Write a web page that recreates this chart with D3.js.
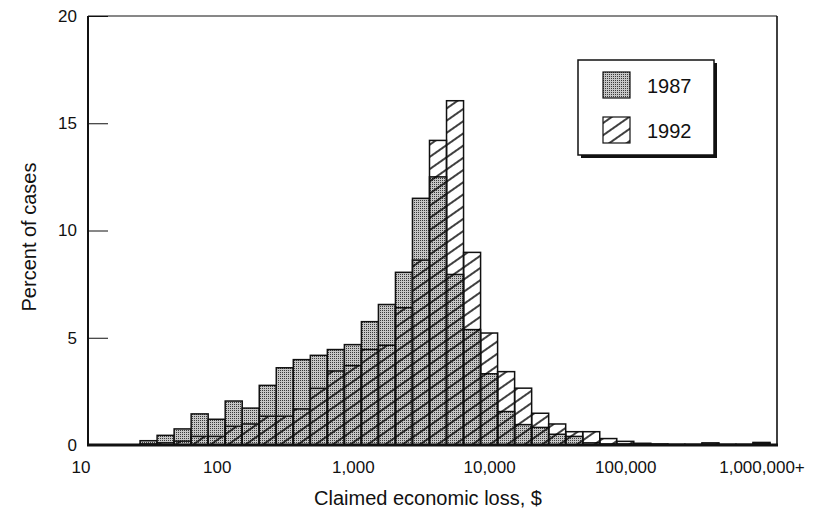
<!DOCTYPE html>
<html>
<head>
<meta charset="utf-8">
<script src="https://cdn.jsdelivr.net/npm/d3@7"></script>
<style>
  html, body { margin: 0; padding: 0; background: #fff; }
  svg text { font-family: "Liberation Sans", Arial, Helvetica, sans-serif; fill: #111; }
</style>
</head>
<body>
<svg id="chart" width="821" height="512"></svg>
<script>
// bins are 1/8 of a decade on the claimed-loss axis, 40 of them
var binCount = 40
var binsPerDecade = 8

// percent of cases per bin
var cases1987 = [0, 0, 0, 0.2, 0.45, 0.75, 1.45, 1.2, 2.05, 1.72,
                 2.78, 3.6, 3.98, 4.18, 4.45, 4.68, 5.75, 6.55, 8.05, 11.5,
                 12.5, 7.95, 5.38, 3.32, 1.56, 0.95, 0.82, 0.5, 0.4, 0.1,
                 0.05, 0.05, 0.03, 0.02, 0.02, 0.02, 0.05, 0.02, 0.02, 0.08]
var cases1992 = [0, 0, 0, 0.05, 0.1, 0.18, 0.4, 0.4, 0.87, 0.98,
                 1.34, 1.34, 1.68, 2.64, 3.45, 3.7, 4.45, 4.65, 6.4, 8.62,
                 14.2, 16.05, 8.98, 5.22, 3.42, 2.65, 1.48, 0.98, 0.62, 0.62,
                 0.3, 0.17, 0.08, 0.05, 0.03, 0.03, 0.1, 0.03, 0.03, 0.12]

var xTickValues = [10, 100, 1000, 10000, 100000, 1000000]
var xTickLabels = ['10', '100', '1,000', '10,000', '100,000', '1,000,000+']
var yTickValues = [0, 5, 10, 15, 20]

var svg = d3.select('#chart')
var plotLeft = 88, plotRight = 777, plotTop = 16, plotBottom = 445

// bin centres fall on the labelled values, so the first edge is half a bin above 10
var firstEdge = Math.pow(10, 1 + 0.5 / binsPerDecade)
var lastEdge = firstEdge * Math.pow(10, binCount / binsPerDecade)
var x = d3.scaleLog().domain([firstEdge, lastEdge]).range([89, 770])
var y = d3.scaleLinear().domain([0, 20]).range([plotBottom, plotTop])

function binEdge(k) {
    return firstEdge * Math.pow(10, k / binsPerDecade)
}

// fill patterns: grey stipple for 1987, diagonal hatch for 1992
var defs = svg.append('defs')
var stipple = defs.append('pattern')
    .attr('id', 'stipple')
    .attr('patternUnits', 'userSpaceOnUse')
    .attr('width', 2)
    .attr('height', 2)
stipple.append('rect').attr('width', 2).attr('height', 2).attr('fill', '#c6c6c6')
stipple.append('rect').attr('width', 1).attr('height', 1).attr('fill', '#3a3a3a')

var hatch = defs.append('pattern')
    .attr('id', 'hatch')
    .attr('patternUnits', 'userSpaceOnUse')
    .attr('width', 10)
    .attr('height', 10)
    .attr('patternTransform', 'rotate(-35)')
hatch.append('line')
    .attr('x1', 0).attr('y1', 5)
    .attr('x2', 10).attr('y2', 5)
    .attr('stroke', '#000')
    .attr('stroke-width', 1.5)

function drawBars(values, cls, fill) {
    var bins = values.map(function(v, k) { return { k: k, v: v } })
        .filter(function(d) { return d.v > 0 })
    svg.append('g')
        .attr('class', cls)
        .selectAll('rect')
        .data(bins)
        .join('rect')
        .attr('x', function(d) { return x(binEdge(d.k)) })
        .attr('width', function(d) { return x(binEdge(d.k + 1)) - x(binEdge(d.k)) })
        .attr('y', function(d) { return y(d.v) })
        .attr('height', function(d) { return y(0) - y(d.v) })
        .attr('fill', fill)
        .attr('stroke', '#111')
        .attr('stroke-width', 1.5)
}

// 1987 underneath, 1992 hatch laid over it
drawBars(cases1987, 'bars1987', 'url(#stipple)')
drawBars(cases1992, 'bars1992', 'url(#hatch)')

// frame
svg.append('line').attr('x1', plotLeft).attr('x2', plotRight).attr('y1', plotTop).attr('y2', plotTop)
    .attr('stroke', '#111').attr('stroke-width', 1)
svg.append('line').attr('x1', plotRight).attr('x2', plotRight).attr('y1', plotTop).attr('y2', plotBottom)
    .attr('stroke', '#111').attr('stroke-width', 1.6)
svg.append('line').attr('x1', plotLeft).attr('x2', plotLeft).attr('y1', plotTop).attr('y2', plotBottom)
    .attr('stroke', '#111').attr('stroke-width', 2)
svg.append('line').attr('x1', plotLeft - 1).attr('x2', plotRight + 1).attr('y1', plotBottom).attr('y2', plotBottom)
    .attr('stroke', '#111').attr('stroke-width', 3)

// y axis, ticks pointing inwards
var yAxis = svg.append('g')
    .attr('transform', 'translate(' + plotLeft + ',0)')
    .call(d3.axisLeft(y).tickValues(yTickValues).tickSize(-20).tickPadding(11))
yAxis.select('.domain').remove()
yAxis.selectAll('.tick line').attr('stroke', '#111').attr('stroke-width', 1)
yAxis.selectAll('.tick text').attr('font-size', 17).attr('fill', '#111')

// x axis, labels only
var xAxis = svg.append('g')
    .attr('transform', 'translate(0,' + plotBottom + ')')
    .call(d3.axisBottom(x)
        .tickValues(xTickValues)
        .tickFormat(function(d, i) { return xTickLabels[i] })
        .tickSize(0)
        .tickPadding(16))
xAxis.select('.domain').remove()
xAxis.selectAll('.tick text').attr('font-size', 17).attr('fill', '#111')

// axis titles
svg.append('text')
    .attr('x', 428)
    .attr('y', 505)
    .attr('text-anchor', 'middle')
    .attr('font-size', 20)
    .text('Claimed economic loss, $')

svg.append('text')
    .attr('transform', 'translate(36,237) rotate(-90)')
    .attr('text-anchor', 'middle')
    .attr('font-size', 20)
    .text('Percent of cases')

// legend with drop shadow
var legend = svg.append('g').attr('transform', 'translate(578,60)')
legend.append('rect')
    .attr('x', 3).attr('y', 3)
    .attr('width', 136).attr('height', 95)
    .attr('fill', '#111')
legend.append('rect')
    .attr('width', 136).attr('height', 95)
    .attr('fill', '#fff')
    .attr('stroke', '#111')
    .attr('stroke-width', 1.5)

var legendItems = [
    { label: '1987', fill: 'url(#stipple)' },
    { label: '1992', fill: 'url(#hatch)' }
]
var item = legend.selectAll('.item')
    .data(legendItems)
    .join('g')
    .attr('class', 'item')
    .attr('transform', function(d, i) { return 'translate(25,' + (12 + i * 45) + ')' })
item.append('rect')
    .attr('width', 27).attr('height', 26)
    .attr('fill', function(d) { return d.fill })
    .attr('stroke', '#111')
    .attr('stroke-width', 1.2)
item.append('text')
    .attr('x', 44)
    .attr('y', 21)
    .attr('font-size', 20)
    .text(function(d) { return d.label })
</script>
</body>
</html>
